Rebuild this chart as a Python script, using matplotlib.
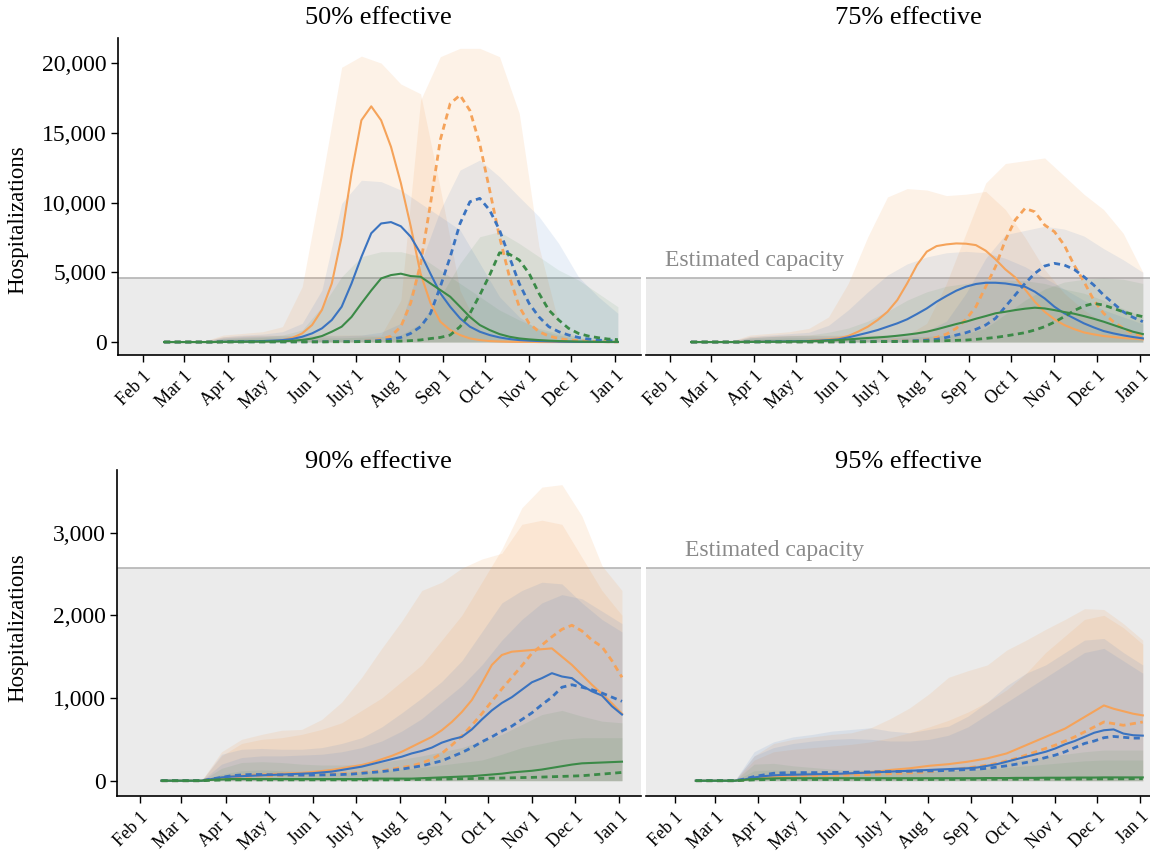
import numpy as np
import pandas as pd
import matplotlib
matplotlib.use("Agg")
import matplotlib.pyplot as plt
import matplotlib.dates as mdates
import matplotlib.ticker as ticker

plt.rcParams['font.family'] = ['Liberation Serif', 'DejaVu Serif']

# weekly grid for the medians, fortnightly grid for the upper bounds of the bands
week = pd.date_range('2020-02-16', periods=47, freq='7D')
fortnight = pd.date_range('2020-02-16', periods=24, freq='14D')
month_ticks = pd.date_range('2020-02-01', '2021-01-01', freq='MS')
month_labels = ['Feb 1', 'Mar 1', 'Apr 1', 'May 1', 'Jun 1', 'July 1', 'Aug 1',
                'Sep 1', 'Oct 1', 'Nov 1', 'Dec 1', 'Jan 1']

titles = ['50% effective', '75% effective', '90% effective', '95% effective']
capacity_top = 4590
capacity_bottom = 2575

# ---- 50% effective ----
o50 = [0,0,0,0,0,0,10,20,30,40,50,70,140,300,620,1220,2300,4200,7550,12100,15900,16900,15900,14000,11400,8300,4900,2800,1460,860,500,260,140,70,40,20,10,10,0,0,0,0,0,0,0,0,0]
o50d = [0,0,0,0,0,0,10,20,30,30,30,30,30,30,30,30,30,30,30,40,50,100,190,430,1100,2800,5600,9900,14500,17100,17700,16600,14200,10900,7550,4700,2530,1340,740,430,260,140,100,60,40,20,10]
b50 = [0,0,0,0,0,0,20,30,40,50,70,100,140,215,380,620,980,1580,2530,4200,6100,7800,8500,8600,8300,7550,6350,4900,3500,2530,1700,1100,740,500,330,215,140,100,70,50,30,20,10,10,10,0,0]
b50d = [0,0,0,0,0,0,10,20,20,20,20,20,20,20,20,20,20,30,30,40,50,70,120,190,330,620,1100,2050,3970,6100,8500,10060,10300,9460,8030,6100,4200,2770,1800,1100,740,500,330,215,140,100,70]
g50 = [0,0,0,0,0,0,10,20,20,30,30,40,60,90,150,250,430,740,1100,1800,2770,3700,4560,4800,4900,4730,4680,4200,3730,3250,2530,1800,1220,860,570,380,260,190,140,100,70,50,30,20,10,10,10]
g50d = [0,0,0,0,0,0,10,10,10,10,10,10,10,10,10,10,10,20,20,20,30,30,40,50,70,100,150,250,330,500,1100,2050,3370,4800,6400,6300,5880,4920,3490,2290,1580,980,620,430,310,215,170]
o50_hi = [0,0,50,500,620,740,1100,3970,11600,19700,20500,20000,18500,17800,11000,3700,860,260,200,150,100,80,60,50]
o50d_hi = [0,0,50,380,450,500,500,500,500,500,500,500,3000,17350,20460,21060,21060,20460,16400,6840,1340,260,140,100]
b50_hi = [0,0,50,380,500,570,740,1340,3730,9940,11600,11500,10900,9940,9000,8030,5640,3250,1800,860,500,260,140,100]
b50d_hi = [0,0,40,300,400,450,450,450,450,450,500,700,1340,5640,9460,12330,13050,11850,10400,9000,7070,4680,3250,2060]
g50_hi = [0,0,30,260,330,380,500,860,2530,4680,6120,6480,6480,6120,5160,4200,3250,2290,1580,980,620,380,260,190]
g50d_hi = [0,0,20,200,250,300,300,300,300,300,350,400,500,1340,3250,5640,7550,7910,7070,6120,5160,4450,3490,2530]

# ---- 75% effective ----
o75 = [0,0,0,0,0,0,10,20,30,40,50,60,80,140,190,260,430,740,1100,1580,2170,3010,4200,5520,6480,6880,7000,7070,7050,6950,6550,5930,5210,4640,3780,2890,2170,1630,1220,930,690,550,430,360,290,240,190]
o75d = [0,0,0,0,0,0,10,20,20,20,20,20,20,20,20,20,30,30,40,50,60,70,80,100,190,330,570,980,1630,2530,3970,5400,7310,8750,9580,9340,8390,7910,6950,5520,4330,3010,2060,1460,980,620,430]
b75 = [0,0,0,0,0,0,10,20,30,40,50,60,70,100,140,190,330,500,670,860,1100,1340,1630,2010,2410,2890,3300,3680,3970,4160,4250,4250,4200,4090,3970,3610,3130,2530,2060,1700,1340,1050,790,620,480,360,260]
b75d = [0,0,0,0,0,0,10,10,20,20,20,20,20,20,20,20,20,20,30,30,40,50,70,100,140,190,330,500,670,910,1220,1700,2530,3370,4200,4920,5450,5640,5520,5210,4680,4090,3370,2770,2170,1770,1460]
g75 = [0,0,0,0,0,0,10,10,20,20,30,40,50,70,100,140,190,240,290,330,380,450,530,620,740,910,1100,1290,1460,1670,1860,2060,2170,2290,2390,2460,2410,2290,2150,2030,1860,1670,1460,1220,980,740,570]
g75d = [0,0,0,0,0,0,10,10,10,10,10,10,10,10,10,10,20,20,20,30,30,40,50,60,70,80,100,120,140,190,260,330,430,550,670,860,1100,1430,1820,2250,2580,2770,2650,2410,2170,1980,1820]
o75_hi = [0,0,50,500,620,740,980,1800,4200,7550,10400,11000,10900,10500,10600,10800,9500,7500,5200,3500,2300,1400,900,600]
o75d_hi = [0,0,40,380,450,500,500,500,500,500,500,500,1340,4200,7800,11400,12800,13000,13200,11900,10600,9500,7800,5000]
b75_hi = [0,0,40,400,500,600,700,1200,2300,3600,4800,5600,6100,6400,6500,6400,6000,5400,4600,3800,3000,2300,1800,1300]
b75d_hi = [0,0,30,300,400,450,450,450,450,450,500,600,800,1500,3500,6000,7700,8000,8300,8100,7600,6700,5900,5000]
g75_hi = [0,0,30,300,380,450,500,700,1000,1500,2200,3000,3600,4000,4200,4400,4450,4400,4200,3800,3500,3000,2400,1800]
g75d_hi = [0,0,20,200,250,300,300,300,300,300,300,350,400,500,600,1000,2000,3000,3800,4300,4500,4600,4500,4200]

# ---- 90% effective ----
o90 = [0,0,0,0,0,15,35,50,60,70,75,80,85,90,95,105,117,130,150,170,190,220,260,300,350,410,470,530,610,710,830,975,1180,1400,1520,1560,1570,1580,1590,1600,1500,1400,1280,1160,1050,935,810]
o90d = [0,0,0,0,0,20,30,40,50,55,60,60,65,65,70,70,75,80,85,90,100,110,120,140,160,180,215,260,330,430,540,670,810,960,1110,1250,1390,1540,1640,1740,1830,1880,1810,1700,1620,1450,1250]
b90 = [0,0,0,0,0,20,40,50,55,60,65,70,75,80,85,90,100,110,130,150,170,200,230,260,290,330,360,400,460,500,530,620,740,850,940,1010,1100,1190,1240,1300,1260,1240,1150,1080,1030,900,800]
b90d = [0,0,0,0,0,20,40,60,70,75,75,72,70,68,68,68,70,72,75,80,90,100,110,125,140,160,180,210,240,290,340,400,470,530,600,660,740,820,920,1010,1130,1160,1130,1100,1060,1010,960]
g90 = [0,0,0,0,0,10,15,20,20,20,20,20,20,20,20,20,20,20,20,20,20,25,25,25,25,25,30,35,40,45,50,55,65,75,85,100,110,120,135,155,175,195,210,215,220,225,230]
g90d = [0,0,0,0,0,5,8,10,10,10,10,10,10,10,10,10,10,10,10,10,10,10,10,10,12,14,16,18,20,22,24,26,28,30,32,35,38,40,44,48,52,56,60,70,80,90,100]
o90_hi = [0,0,0,350,500,560,610,620,740,950,1250,1600,1930,2300,2400,2570,2680,2750,3100,3150,3100,2700,2300,2000]
o90d_hi = [0,0,0,300,450,500,520,560,620,700,850,1000,1200,1400,1700,2000,2400,2800,3300,3550,3580,3200,2600,2300]
b90_hi = [0,0,0,320,380,390,380,380,400,450,520,650,820,1000,1200,1450,1800,2150,2300,2400,2380,2150,1950,1800]
b90d_hi = [0,0,0,200,280,300,300,310,320,350,400,480,600,750,950,1150,1400,1700,1950,2150,2250,2200,2050,1900]
g90_hi = [0,0,0,150,220,230,220,200,190,190,200,220,260,300,350,400,480,560,680,800,850,780,720,700]
g90d_hi = [0,0,0,80,120,130,120,110,100,100,110,120,140,160,190,220,250,320,400,450,500,520,520,520]

# ---- 95% effective ----
o95 = [0,0,0,0,0,15,30,45,55,60,65,68,70,72,75,80,85,95,105,115,130,140,150,165,180,190,200,215,230,250,270,300,330,380,430,480,530,580,630,700,770,840,910,870,840,810,790]
o95d = [0,0,0,0,0,10,25,35,45,50,55,58,60,62,64,66,68,72,76,80,85,90,95,100,110,120,130,140,155,170,190,210,240,270,310,350,390,430,480,530,590,650,710,690,670,690,710]
b95 = [0,0,0,0,0,15,40,55,65,70,72,75,78,80,82,85,90,95,100,105,110,115,120,125,130,135,140,145,150,160,180,200,230,260,290,320,350,390,440,480,530,580,610,620,570,550,545]
b95d = [0,0,0,0,0,20,50,70,90,95,97,98,98,98,100,100,102,104,106,108,110,112,114,116,118,120,125,130,135,140,150,165,180,200,220,250,280,310,350,400,450,480,520,535,525,515,515]
g95 = [0,0,0,0,0,10,20,25,28,30,30,30,30,30,30,30,30,30,30,30,30,30,30,30,30,30,30,30,30,30,32,32,32,34,34,34,36,36,36,38,38,38,40,40,40,40,40]
g95d = [0,0,0,0,0,5,10,12,14,15,15,15,15,15,15,15,15,15,15,15,15,15,15,15,15,16,16,16,17,17,17,18,18,18,19,19,20,20,20,21,21,22,22,23,23,24,25]
o95_hi = [0,0,0,300,450,500,530,560,580,640,750,880,1050,1250,1330,1400,1580,1700,1830,1950,2080,2070,1900,1700]
o95d_hi = [0,0,0,250,350,380,400,420,440,470,520,580,650,730,830,950,1100,1300,1550,1750,1950,2000,1850,1650]
b95_hi = [0,0,0,350,470,530,560,600,620,640,600,580,620,660,780,950,1150,1300,1400,1550,1700,1720,1550,1400]
b95d_hi = [0,0,0,300,400,450,480,500,510,500,480,480,500,550,650,800,950,1100,1250,1400,1550,1600,1450,1300]
g95_hi = [0,0,0,200,210,180,160,140,130,130,130,140,150,160,180,200,230,260,290,320,350,370,370,370]
g95d_hi = [0,0,0,120,130,120,110,100,100,100,100,100,110,120,130,140,160,180,200,220,240,250,250,250]

orange = '#f5a35a'
blue = '#3a73c0'
green = '#3b8a47'
band_alpha = {orange: 0.14, blue: 0.10, green: 0.09}

W, H = 1150, 857
fig = plt.figure(figsize=(W / 100, H / 100), dpi=100)

def px_axes(left, right, top, bottom):
    return fig.add_axes([left / W, 1 - bottom / H, (right - left) / W, (bottom - top) / H])

feb1 = mdates.date2num(pd.Timestamp('2020-02-01'))

panels = [
    # axes box (px), xlim offsets from Feb 1 (days), ylim, capacity, series
    dict(box=(118, 641, 38, 355), xl=(-17.7, 353.4), yl=(-930, 21800), cap=capacity_top,
         yt=[0, 5000, 10000, 15000, 20000], left=True,
         lines=[(o50, o50_hi, orange, '-'), (o50d, o50d_hi, orange, '--'),
                (b50, b50_hi, blue, '-'), (b50d, b50d_hi, blue, '--'),
                (g50, g50_hi, green, '-'), (g50d, g50d_hi, green, '--')]),
    dict(box=(646, 1150, 38, 355), xl=(-17.1, 342.1), yl=(-930, 21800), cap=capacity_top,
         yt=None, left=False, label_x=0.038, label_y=5450,
         lines=[(o75, o75_hi, orange, '-'), (o75d, o75d_hi, orange, '--'),
                (b75, b75_hi, blue, '-'), (b75d, b75d_hi, blue, '--'),
                (g75, g75_hi, green, '-'), (g75d, g75d_hi, green, '--')]),
    dict(box=(117, 641, 470, 796), xl=(-16.1, 350.3), yl=(-185, 3757), cap=capacity_bottom,
         yt=[0, 1000, 2000, 3000], left=True,
         lines=[(o90, o90_hi, orange, '-'), (o90d, o90d_hi, orange, '--'),
                (b90, b90_hi, blue, '-'), (b90d, b90d_hi, blue, '--'),
                (g90, g90_hi, green, '-'), (g90d, g90d_hi, green, '--')]),
    dict(box=(646, 1150, 470, 796), xl=(-20.9, 342.2), yl=(-185, 3757), cap=capacity_bottom,
         yt=None, left=False, label_x=0.077, label_y=2720,
         lines=[(o95, o95_hi, orange, '-'), (o95d, o95d_hi, orange, '--'),
                (b95, b95_hi, blue, '-'), (b95d, b95d_hi, blue, '--'),
                (g95, g95_hi, green, '-'), (g95d, g95d_hi, green, '--')]),
]

for p in panels:
    ax = px_axes(*p['box'])
    ax.set_xlim(feb1 + p['xl'][0], feb1 + p['xl'][1])
    ax.set_ylim(*p['yl'])
    ax.axhspan(p['yl'][0], p['cap'], color='#ebebeb', lw=0, zorder=0)
    ax.axhline(p['cap'], color='#b4b4b4', lw=1.2, zorder=0.5)

    for med, hi, c, ls in p['lines']:
        ax.fill_between(fortnight, 0, hi, color=c, alpha=band_alpha[c], lw=0, zorder=1)
    for med, hi, c, ls in p['lines']:
        if ls == '-':
            ax.plot(week, med, color=c, lw=1.5, zorder=3)
        else:
            ax.plot(week, med, color=c, lw=2.0, dashes=(2.2, 1.6), zorder=3)

    ax.set_xticks(month_ticks)
    ax.set_xticklabels(month_labels, rotation=45, ha='right', va='top',
                       rotation_mode='anchor', fontsize=13)
    ax.tick_params(axis='x', direction='out', length=5, width=1, pad=4)

    for s in ['top', 'right']:
        ax.spines[s].set_visible(False)
    ax.spines['bottom'].set_linewidth(1.2)
    if p['left']:
        ax.spines['left'].set_linewidth(1.2)
        ax.set_yticks(p['yt'])
        ax.yaxis.set_major_formatter(ticker.FuncFormatter(lambda v, pos: '{:,.0f}'.format(v)))
        ax.tick_params(axis='y', direction='out', length=5, width=1, labelsize=17, pad=3)
    else:
        ax.spines['left'].set_visible(False)
        ax.tick_params(axis='y', left=False, labelleft=False)
        ax.text(p['label_x'], p['label_y'], 'Estimated capacity', color='#8a8a8a',
                fontsize=17, va='baseline', ha='left',
                transform=ax.get_yaxis_transform())

fig.text(378 / W, 1 - 18 / H, titles[0], fontsize=19, ha='center', va='center')
fig.text(908 / W, 1 - 18 / H, titles[1], fontsize=19, ha='center', va='center')
fig.text(378 / W, 1 - 462 / H, titles[2], fontsize=19, ha='center', va='center')
fig.text(908 / W, 1 - 462 / H, titles[3], fontsize=19, ha='center', va='center')

fig.text(18 / W, 1 - 220 / H, 'Hospitalizations', rotation=90, fontsize=16.5,
         ha='center', va='center')
fig.text(18 / W, 1 - 628 / H, 'Hospitalizations', rotation=90, fontsize=16.5,
         ha='center', va='center')

fig.savefig('out.png', dpi=100)
